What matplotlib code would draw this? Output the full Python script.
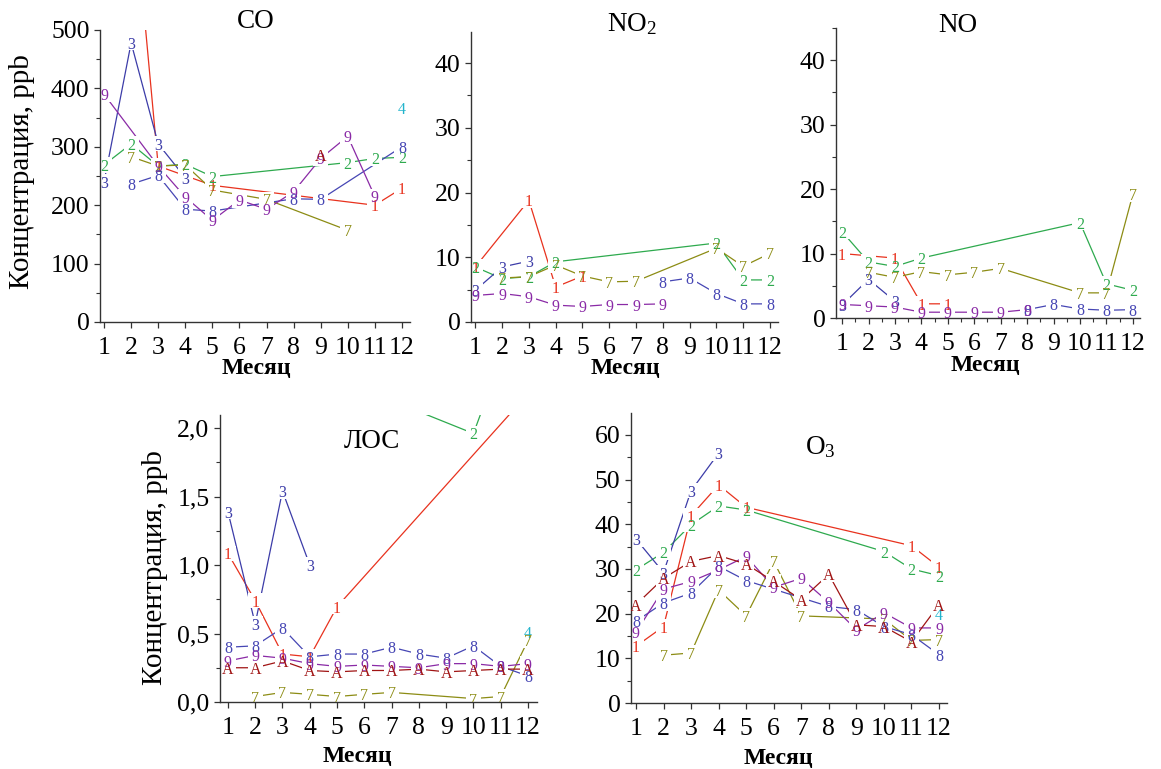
import matplotlib
matplotlib.use("Agg")
import matplotlib.pyplot as plt
from matplotlib.ticker import MultipleLocator, FuncFormatter, FixedLocator

plt.rcParams['font.family'] = ['Liberation Serif', 'DejaVu Serif']
plt.rcParams['mathtext.default'] = 'regular'

# ---- monthly concentrations per station (month list, value list) ----
co = {
    "1": ([2, 3, 5, 11, 12], [770, 267, 234, 200, 229]),
    "2": ([1, 2, 3, 4, 5, 10, 11, 12], [269, 305, 267, 270, 249, 273, 280, 282]),
    "3": ([1, 2, 3, 4], [240, 478, 305, 247]),
    "4": ([12], [367]),
    "7": ([2, 3, 4, 5, 7, 10], [283, 267, 269, 226, 210, 157]),
    "8": ([2, 3, 4, 5, 8, 9, 12], [236, 251, 193, 190, 211, 210, 300]),
    "9": ([1, 3, 4, 5, 6, 7, 8, 9, 10, 11], [390, 267, 214, 174, 209, 193, 223, 280, 318, 215]),
    "A": ([9], [286]),
}

no2 = {
    "1": ([1, 3, 4, 5], [8.5, 18.8, 5.4, 7.1]),
    "2": ([1, 2, 3, 4, 10, 11, 12], [8.5, 6.7, 7.0, 9.3, 12.2, 6.5, 6.5]),
    "3": ([1, 2, 3], [4.9, 8.5, 9.4]),
    "7": ([2, 3, 4, 5, 6, 7, 10, 11, 12], [6.8, 7.0, 8.8, 7.1, 6.2, 6.3, 11.4, 8.6, 10.6]),
    "8": ([8, 9, 10, 11, 12], [6.2, 6.8, 4.4, 2.8, 2.8]),
    "9": ([1, 2, 3, 4, 5, 6, 7, 8], [4.1, 4.4, 3.9, 2.6, 2.4, 2.7, 2.7, 2.8]),
}

no = {
    "1": ([1, 3, 4, 5], [10.0, 9.3, 2.2, 2.2]),
    "2": ([1, 2, 3, 4, 10, 11, 12], [13.4, 8.7, 8.0, 9.3, 14.8, 5.3, 4.3]),
    "3": ([1, 2, 3], [2.0, 6.0, 2.6]),
    "7": ([2, 3, 4, 5, 6, 7, 10, 11, 12], [7.1, 6.3, 7.2, 6.7, 7.1, 7.7, 3.9, 3.9, 19.2]),
    "8": ([8, 9, 10, 11, 12], [1.3, 2.1, 1.4, 1.2, 1.3]),
    "9": ([1, 2, 3, 4, 5, 6, 7, 8], [2.1, 1.9, 1.7, 0.9, 0.9, 0.9, 0.9, 1.3]),
}

voc = {
    "1": ([1, 2, 3, 4, 5, 12], [1.085, 0.74, 0.35, 0.33, 0.695, 2.25]),
    "2": ([7, 10, 11], [2.2, 1.96, 2.5]),
    "3": ([1, 2, 3, 4], [1.39, 0.57, 1.54, 1.0]),
    "4": ([12], [0.51]),
    "7": ([2, 3, 4, 5, 6, 7, 10, 11, 12], [0.04, 0.07, 0.056, 0.04, 0.056, 0.07, 0.025, 0.04, 0.45]),
    "8": (list(range(1, 13)), [0.40, 0.41, 0.54, 0.33, 0.35, 0.35, 0.40, 0.35, 0.32, 0.41, 0.26, 0.19]),
    "9": (list(range(1, 13)), [0.30, 0.34, 0.32, 0.28, 0.26, 0.27, 0.26, 0.25, 0.28, 0.28, 0.26, 0.28]),
    "A": (list(range(1, 13)), [0.25, 0.25, 0.30, 0.23, 0.22, 0.23, 0.23, 0.24, 0.22, 0.23, 0.24, 0.24]),
}

o3 = {
    "1": ([1, 2, 3, 4, 5, 11, 12], [12.7, 17.1, 41.9, 48.8, 43.8, 35.2, 30.4]),
    "2": ([1, 2, 3, 4, 5, 10, 11, 12], [29.8, 33.7, 39.9, 44.1, 43.2, 33.9, 30.0, 28.5]),
    "3": ([1, 2, 3, 4], [36.7, 29.2, 47.5, 55.9]),
    "4": ([12], [19.9]),
    "7": ([2, 3, 4, 5, 6, 7, 10, 11, 12], [10.7, 11.2, 25.3, 19.5, 31.7, 19.5, 18.8, 14.0, 14.2]),
    "8": ([1, 2, 3, 4, 5, 8, 9, 10, 11, 12], [18.3, 22.4, 24.6, 30.6, 27.4, 21.6, 20.9, 17.1, 15.3, 10.8]),
    "9": (list(range(1, 13)), [15.8, 25.5, 27.2, 29.8, 32.8, 25.9, 27.9, 22.5, 16.4, 20.2, 16.8, 16.8]),
    "A": (list(range(1, 13)), [22.0, 27.9, 31.7, 33.0, 31.1, 27.2, 23.1, 28.8, 17.5, 17.1, 13.7, 22.0]),
}

colors = {
    "1": "#e8321e", "2": "#2eaa4e", "3": "#3c3ca8", "4": "#22b4cc",
    "7": "#8c8c14", "8": "#4646b4", "9": "#8a2aa6", "A": "#a01414",
}

months = list(range(1, 13))
ylabel = "Концентрация, ppb"
xlabel = "Месяц"

W, H = 1161, 769
fig = plt.figure(figsize=(W / 100, H / 100), dpi=100)
fig.patch.set_facecolor("white")


def rect(x0, y0, x1, y1):
    return [x0 / W, 1 - y1 / H, (x1 - x0) / W, (y1 - y0) / H]


LBL_SIZE = 11.5
TICK_SIZE = 18.5


def panel(box, data, xlim, ylim, major, minor, fmt, title, title_xy, half_month=False):
    ax = fig.add_axes(rect(*box))
    ax.set_facecolor("white")
    ax.set_xlim(*xlim)
    ax.set_ylim(*ylim)
    for key, (m, v) in data.items():
        ax.plot(m, v, color=colors[key], lw=0.9, zorder=1, solid_capstyle="butt")
    # white squares under the labels open small gaps in the lines
    for key, (m, v) in data.items():
        ax.scatter(m, v, marker="s", s=120, c="white", edgecolors="none",
                   linewidths=0, zorder=2)
    for key, (m, v) in data.items():
        for x, y in zip(m, v):
            if ylim[0] <= y <= ylim[1]:
                ax.text(x, y, key, color=colors[key], fontsize=LBL_SIZE,
                        ha="center", va="center_baseline", zorder=3, clip_on=True)
    ax.xaxis.set_major_locator(FixedLocator(months))
    if half_month:
        ax.xaxis.set_minor_locator(FixedLocator([m + 0.5 for m in months[:-1]]))
    ax.yaxis.set_major_locator(MultipleLocator(major))
    ax.yaxis.set_minor_locator(MultipleLocator(minor))
    ax.yaxis.set_major_formatter(FuncFormatter(fmt))
    for s in ("top", "right"):
        ax.spines[s].set_visible(False)
    for s in ("left", "bottom"):
        ax.spines[s].set_color("#333333")
        ax.spines[s].set_linewidth(1.0)
    ax.tick_params(which="major", direction="out", length=4.5, width=0.9,
                   color="#333333", labelsize=TICK_SIZE)
    ax.tick_params(axis="x", which="major", pad=6)
    ax.tick_params(axis="y", which="major", pad=3)
    ax.tick_params(which="minor", direction="out", length=3, width=0.8,
                   color="#333333")
    ax.text(title_xy[0], title_xy[1], title, fontsize=19.5,
            ha="center", va="center", transform=fig.transFigure)
    return ax


def to_fig(x, y):
    return (x / W, 1 - y / H)


int_fmt = lambda v, p: f"{v:.0f}"
comma_fmt = lambda v, p: f"{v:.1f}".replace(".", ",")

panel((100, 30, 410, 322), co, (0.85, 12.3), (0, 500), 100, 50, int_fmt,
      "CO", to_fig(256, 22))
panel((471, 32, 778, 322), no2, (0.84, 12.3), (0, 44.8), 10, 5, int_fmt,
      "NO$_2$", to_fig(632, 24))
panel((836, 28, 1140, 318), no, (0.77, 12.27), (0, 45.0), 10, 5, int_fmt,
      "NO", to_fig(958, 25), half_month=True)
panel((220, 415, 537, 702), voc, (0.71, 12.33), (0, 2.095), 0.5, 0.25, comma_fmt,
      "ЛОС", to_fig(372, 441))
panel((631, 413, 947, 703), o3, (0.82, 12.29), (0, 64.9), 10, 5, int_fmt,
      "O$_3$", to_fig(820, 447))

# axis titles
for (x, y) in [(256, 369), (625, 369), (985, 365), (357, 757), (778, 759)]:
    fx, fy = to_fig(x, y)
    fig.text(fx, fy, xlabel, fontsize=17, fontweight="bold", ha="center", va="center")
for (x, y) in [(22, 172), (155, 568)]:
    fx, fy = to_fig(x, y)
    fig.text(fx, fy, ylabel, fontsize=21, rotation=90, ha="center", va="center")

fig.savefig("out.png", dpi=100, facecolor="white")
